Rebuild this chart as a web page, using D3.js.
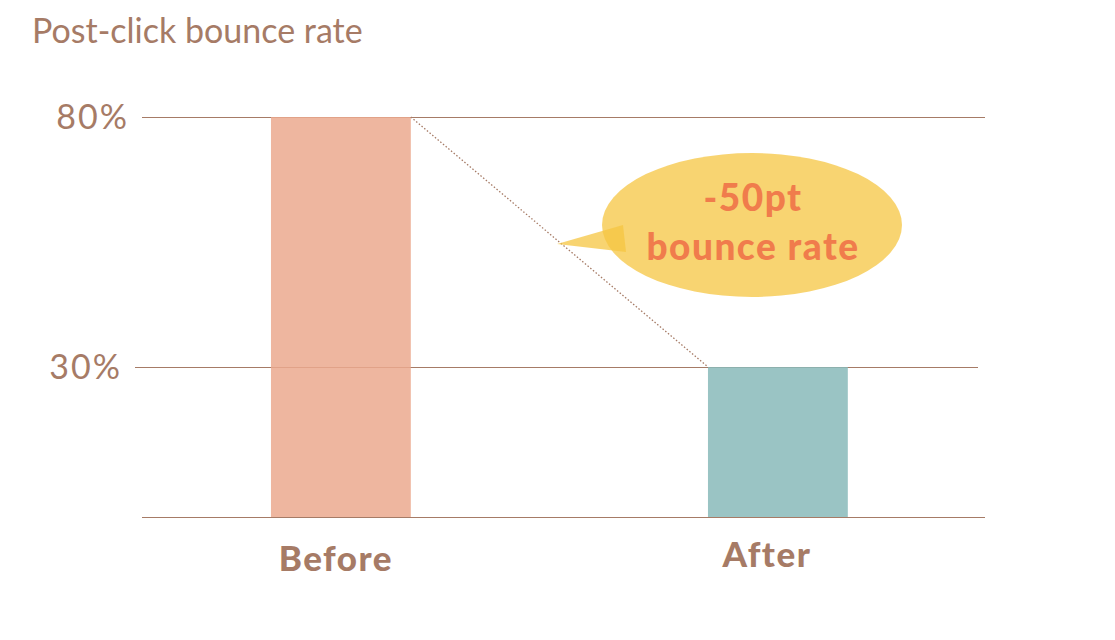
<!DOCTYPE html>
<html>
<head>
<meta charset="utf-8">
<script src="https://cdn.jsdelivr.net/npm/d3@7"></script>
<style>
  body { margin: 0; background: #fff; }
  svg { display: block; }
</style>
</head>
<body>
<svg id="chart"></svg>
<script>
// data
const categories = ['Before', 'After'];
const values = [80, 30];
const barColors = ['#EBA98E', '#88BABA'];
const yTicks = [30, 80];
const title = 'Post-click bounce rate';
const calloutLines = ['-50pt', 'bounce rate'];

const width = 1115, height = 640;
const brown = '#A67B66';

const svg = d3.select('#chart')
    .attr('width', width)
    .attr('height', height);

const yscale = d3.scaleLinear()
    .domain([0, 80])
    .range([517, 117]);

const xscale = d3.scaleBand()
    .domain(categories)
    .range([122.4, 996.4])
    .paddingInner(0.68)
    .paddingOuter(0.34);

// title
svg.append('text')
    .attr('x', 32)
    .attr('y', 43)
    .attr('fill', brown)
    .attr('font-family', 'Lato')
    .attr('font-weight', 400)
    .attr('font-size', 34)
    .text(title);

// grid lines (the 30% one sits a little to the left in the original)
const gridShift = {30: -7, 80: 0};
svg.append('g').selectAll('line')
    .data(yTicks)
    .join('line')
    .attr('x1', d => 142 + gridShift[d])
    .attr('x2', d => 985 + gridShift[d])
    .attr('y1', d => yscale(d) + 0.5)
    .attr('y2', d => yscale(d) + 0.5)
    .attr('stroke', brown)
    .attr('stroke-width', 1);

// baseline
svg.append('line')
    .attr('x1', 142).attr('x2', 985)
    .attr('y1', yscale(0) + 0.5).attr('y2', yscale(0) + 0.5)
    .attr('stroke', brown)
    .attr('stroke-width', 1);

// tick labels
svg.append('g').selectAll('text')
    .data(yTicks)
    .join('text')
    .attr('x', d => 129 + gridShift[d])
    .attr('y', d => yscale(d) + 12)
    .attr('text-anchor', 'end')
    .attr('fill', brown)
    .attr('font-family', 'Lato')
    .attr('font-weight', 400)
    .attr('font-size', 34)
    .attr('letter-spacing', 2)
    .text(d => d + '%');

// bars
svg.append('g').selectAll('rect')
    .data(values)
    .join('rect')
    .attr('x', (d, i) => xscale(categories[i]))
    .attr('y', d => yscale(d))
    .attr('width', xscale.bandwidth())
    .attr('height', d => yscale(0) - yscale(d))
    .attr('fill', (d, i) => barColors[i])
    .attr('fill-opacity', 0.85);

// category labels
const labelNudge = [-5, -11];
const labelY = [571, 567];
svg.append('g').selectAll('text')
    .data(categories)
    .join('text')
    .attr('x', (d, i) => xscale(d) + xscale.bandwidth() / 2 + labelNudge[i])
    .attr('y', (d, i) => labelY[i])
    .attr('text-anchor', 'middle')
    .attr('fill', brown)
    .attr('font-family', 'Lato')
    .attr('font-weight', 900)
    .attr('font-size', 35)
    .attr('letter-spacing', 1.5)
    .text(d => d);

// dotted connector from top of Before to top of After
svg.append('line')
    .attr('x1', xscale('Before') + xscale.bandwidth())
    .attr('y1', yscale(values[0]))
    .attr('x2', xscale('After'))
    .attr('y2', yscale(values[1]))
    .attr('stroke', brown)
    .attr('stroke-width', 1.3)
    .attr('stroke-dasharray', '1.5,2');

// speech bubble
const bubble = svg.append('g');
bubble.append('ellipse')
    .attr('cx', 752).attr('cy', 225)
    .attr('rx', 150).attr('ry', 72)
    .attr('fill', '#F5C542')
    .attr('fill-opacity', 0.75);
bubble.append('path')
    .attr('d', 'M557,244 L623,225 L626,252 Z')
    .attr('fill', '#F5C542')
    .attr('fill-opacity', 0.75);

bubble.selectAll('text')
    .data(calloutLines)
    .join('text')
    .attr('x', 753)
    .attr('y', (d, i) => 211 + i * 49)
    .attr('text-anchor', 'middle')
    .attr('fill', '#F07C4C')
    .attr('font-family', 'Lato')
    .attr('font-weight', 900)
    .attr('font-size', 37)
    .attr('letter-spacing', 1.5)
    .text(d => d);
</script>
</body>
</html>
